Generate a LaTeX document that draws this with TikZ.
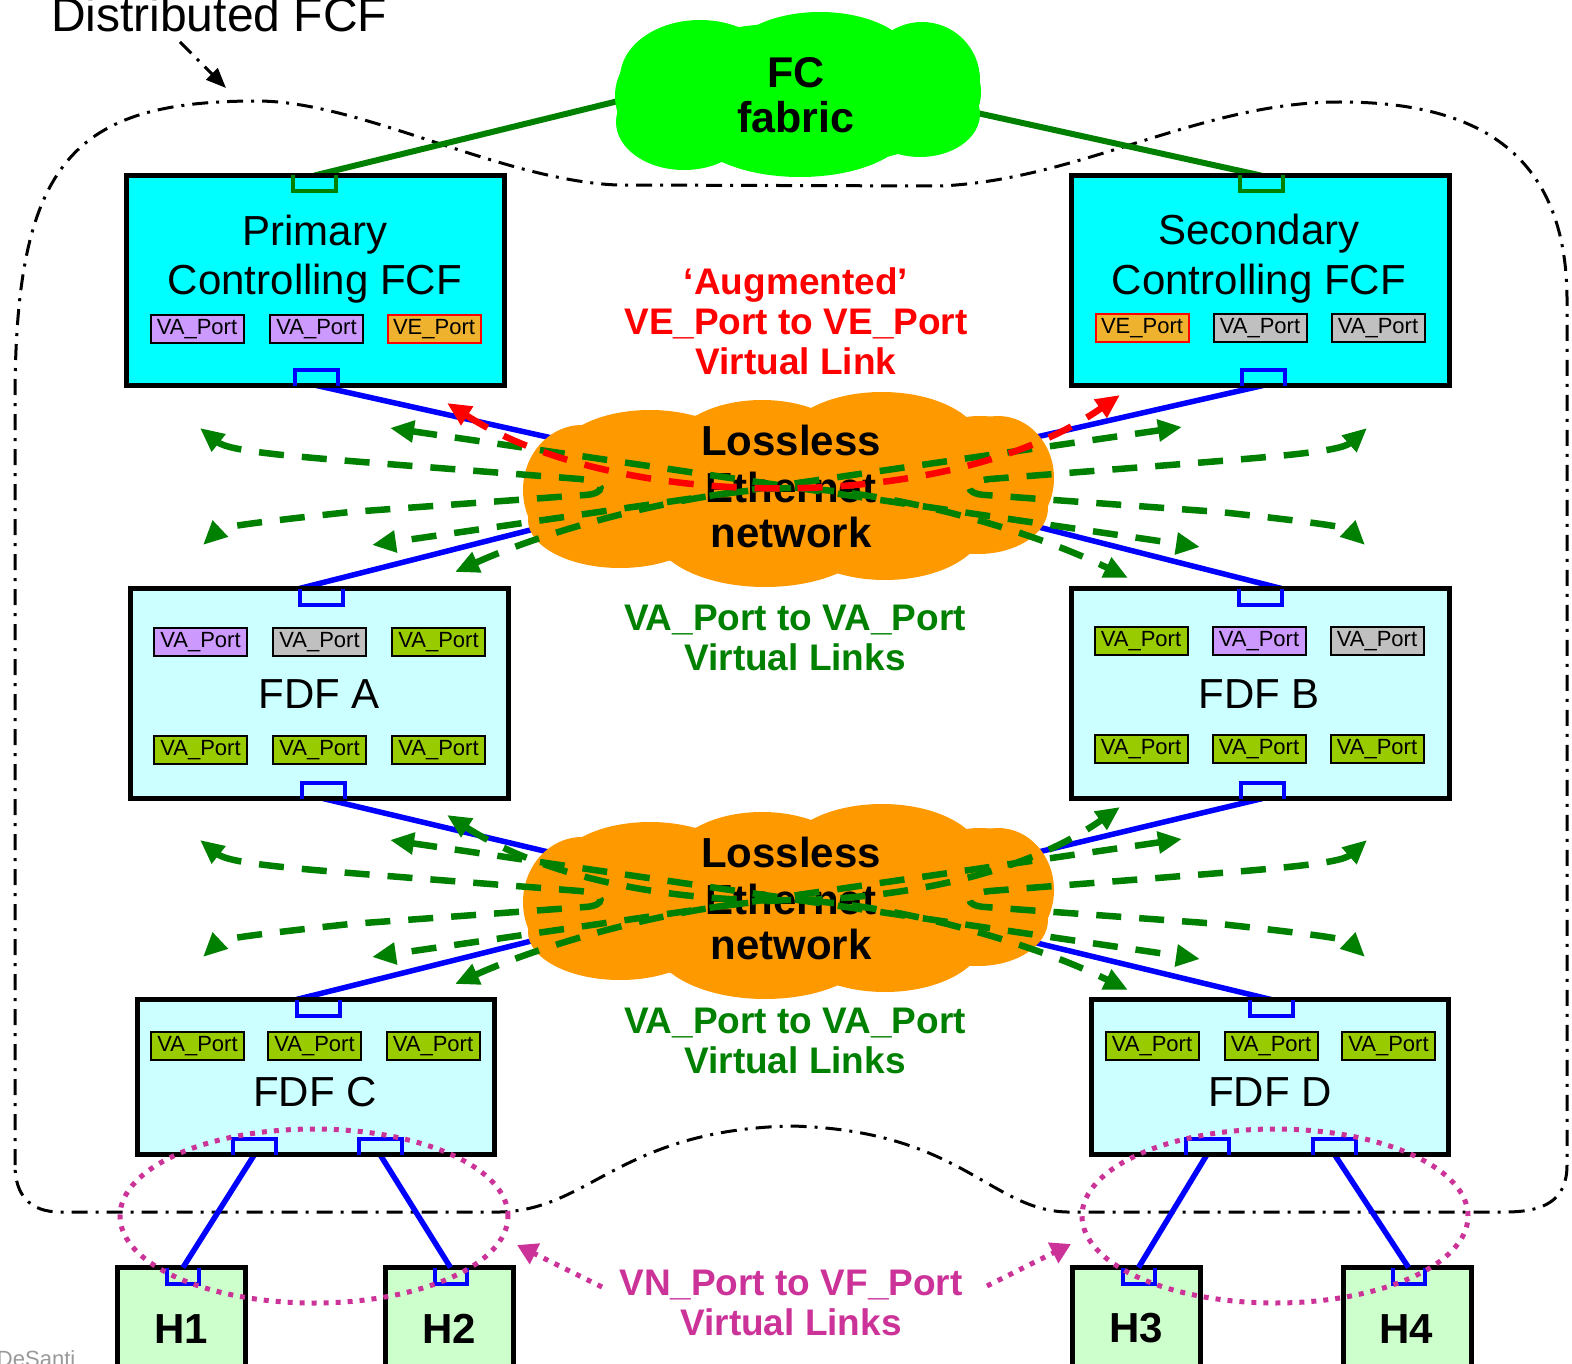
\documentclass[tikz,border=0pt]{standalone}
\usepackage{fontspec}
\setmainfont{Liberation Sans}
\usetikzlibrary{shapes.geometric,arrows.meta}
\definecolor{fcgreen}{HTML}{00FF00}
\definecolor{lgreen}{HTML}{008000}
\definecolor{corange}{HTML}{FF9900}
\definecolor{bcyan}{HTML}{00FFFF}
\definecolor{lcyan}{HTML}{CCFFFF}
\definecolor{hgreen}{HTML}{CCFFCC}
\definecolor{ppurple}{HTML}{CC99FF}
\definecolor{pgray}{HTML}{C0C0C0}
\definecolor{pgreen}{HTML}{99CC00}
\definecolor{porange}{HTML}{EEB22E}
\definecolor{mag}{HTML}{CC3399}
\definecolor{dsgray}{HTML}{999999}
\newcommand\myfs[1]{\fontsize{#1pt}{#1pt}\selectfont}
\newcommand\Utop[2]{\draw[line width=4pt,#2] (#1.north west) -- (#1.south west) -- (#1.south east) -- (#1.north east);}
\newcommand\Ubot[2]{\draw[line width=4pt,#2] (#1.south west) -- (#1.north west) -- (#1.north east) -- (#1.south east);}
\newcommand\ethcloud{%
  \fill[corange] (790,490) ellipse[x radius=255pt, y radius=80pt];
  \fill[corange] (650,460) ellipse[x radius=95pt, y radius=50pt];
  \fill[corange] (762,452) ellipse[x radius=92pt, y radius=52pt];
  \fill[corange] (882,446) ellipse[x radius=100pt, y radius=54pt];
  \fill[corange] (980,462) ellipse[x radius=65pt, y radius=46pt];
  \fill[corange] (620,520) ellipse[x radius=92pt, y radius=48pt];
  \fill[corange] (765,530) ellipse[x radius=112pt, y radius=57pt];
  \fill[corange] (885,524) ellipse[x radius=100pt, y radius=56pt];
  \fill[corange] (978,508) ellipse[x radius=70pt, y radius=46pt];
  \fill[corange] (582,490) ellipse[x radius=59pt, y radius=65pt];
  \fill[corange] (998,478) ellipse[x radius=56pt, y radius=62pt];
}
\newcommand\vlinks[2]{%
  \coordinate (#1sa) at (447,403); \coordinate (#1sb) at (1120,395);
  \coordinate (#1aa) at (390,428); \coordinate (#1ab) at (1200,547);
  \coordinate (#1ba) at (1182,427); \coordinate (#1bb) at (372,545);
  \coordinate (#1ca) at (455,572); \coordinate (#1cb) at (1128,578);
  \coordinate (#1la) at (200,428); \coordinate (#1lb) at (203,545);
  \coordinate (#1ra) at (1367,428); \coordinate (#1rb) at (1365,545);
  \draw[vl] (#1la) .. controls (230,452) and (300,457) .. (400,465) -- (580,479) .. controls (608,482) and (605,494) .. (585,495) -- (350,512) .. controls (258,522) and (222,527) .. (#1lb);
  \draw[vl] (#1ra) .. controls (1340,452) and (1270,457) .. (1170,465) -- (990,479) .. controls (962,482) and (965,494) .. (985,495) -- (1220,512) .. controls (1312,522) and (1346,527) .. (#1rb);
  \draw[vl] (#1aa) -- (#1ab);
  \draw[vl] (#1ba) -- (#1bb);
  \draw[vl] (#1ca) .. controls (560,525) and (700,490) .. (790,488) .. controls (880,490) and (1020,525) .. (#1cb);
  \draw[vl, draw=#2] (#1sa) .. controls (620,514) and (950,514) .. (#1sb);
}
\begin{document}
\begin{tikzpicture}[x=1pt,y=-1pt,
  txt/.style={anchor=base, inner sep=0pt, outer sep=0pt},
  bnd/.style={line width=3pt, dash pattern=on 16pt off 8pt on 3pt off 8pt},
  fcfbox/.style={draw=black, line width=5pt, fill=bcyan, inner sep=0pt, outer sep=0pt, minimum width=378pt, minimum height=210pt},
  fdfbox/.style={fcfbox, fill=lcyan},
  fdfsmall/.style={fdfbox, minimum width=357pt, minimum height=155pt},
  hostbox/.style={draw=black, line width=5pt, fill=hgreen, inner sep=0pt, outer sep=0pt, minimum width=128pt, minimum height=130pt},
  pl/.style={draw=black, line width=2pt, inner sep=0pt, minimum width=93pt, minimum height=28pt, font=\myfs{22}},
  pv/.style={pl, fill=ppurple}, pg/.style={pl, fill=pgray}, py/.style={pl, fill=pgreen},
  pe/.style={pl, fill=porange, draw=red},
  pu/.style={inner sep=0pt, outer sep=0pt, minimum width=43pt, minimum height=16pt},
  hu/.style={pu, minimum width=32pt},
  bl/.style={draw=blue, line width=5.5pt},
  gl/.style={draw=lgreen, line width=6pt},
  >={Triangle[length=24pt,width=21pt]},
  vl/.style={draw=lgreen, line width=6.5pt, dash pattern=on 25pt off 18pt, <->},
  mg/.style={draw=mag, line width=5pt, dash pattern=on 5pt off 7pt},
  big/.style={txt, font=\myfs{42}},
  bigb/.style={txt, font=\myfs{42}\bfseries},
  lab/.style={txt, font=\myfs{37}\bfseries}
]
\useasboundingbox (0,0) rectangle (1572,1364);

% Distributed FCF boundary
\draw[bnd] (15,1165) -- (15,400) .. controls (15,160) and (75,101) .. (257,101) .. controls (360,101) and (500,180) .. (617,185) -- (940,186) .. controls (1080,180) and (1200,102) .. (1340,102) .. controls (1460,102) and (1567,140) .. (1567,300) -- (1567,1165) .. controls (1567,1200) and (1545,1212) .. (1505,1212) -- (1067,1212) .. controls (990,1210) and (960,1130) .. (791,1126) .. controls (620,1130) and (590,1210) .. (500,1212) -- (60,1212) .. controls (30,1212) and (15,1195) .. (15,1165) -- cycle;
\node[txt, anchor=base west, font=\myfs{48}] (title) at (51,32) {Distributed FCF};
\coordinate (ta) at (180,42);
\coordinate (tb) at (226,88);
\draw[bnd, -{Triangle[length=20pt,width=16pt]}] (ta) -- (tb);

% boxes
\node[fcfbox] (pri) at (315.5,280.5) {};
\node[fcfbox] (sec) at (1260.5,280.5) {};
\node[fdfbox] (fdfa) at (319,693.5) {};
\node[fdfbox] (fdfb) at (1260,693.5) {};
\node[fdfsmall] (fdfc) at (315.5,1077) {};
\node[fdfsmall] (fdfd) at (1270,1077) {};
\node[hostbox] (h1) at (181.5,1332.5) {};
\node[hostbox] (h2) at (449.5,1332.5) {};
\node[hostbox] (h3) at (1136.5,1332.5) {};
\node[hostbox] (h4) at (1407,1332.5) {};

% port anchors
\node[pu] (priT) at (314.5,183.5) {};
\node[pu] (priB) at (316.5,377.5) {};
\node[pu] (secT) at (1261,183.5) {};
\node[pu] (secB) at (1263,377.5) {};
\node[pu] (faT) at (321,596.5) {};
\node[pu] (faB) at (323,790.5) {};
\node[pu] (fbT) at (1260,596.5) {};
\node[pu] (fbB) at (1262.5,790.5) {};
\node[pu] (fcT) at (318,1007.5) {};
\node[pu] (fcB1) at (254.5,1146.5) {};
\node[pu] (fcB2) at (380,1146.5) {};
\node[pu] (fdT) at (1271,1007.5) {};
\node[pu] (fdB1) at (1207,1146.5) {};
\node[pu] (fdB2) at (1334.5,1146.5) {};
\node[hu] (h1p) at (183,1275.5) {};
\node[hu] (h2p) at (450.5,1275.5) {};
\node[hu] (h3p) at (1138.5,1275.5) {};
\node[hu] (h4p) at (1408.5,1275.5) {};

% hidden ends inside the clouds
\coordinate (fabL) at (700,81);
\coordinate (fabR) at (900,96);
\coordinate (e1a) at (700,471);
\coordinate (e1b) at (900,468);
\coordinate (e1c) at (700,487);
\coordinate (e1d) at (900,492);
\coordinate (e2a) at (700,888);
\coordinate (e2b) at (900,885);
\coordinate (e2c) at (700,899);
\coordinate (e2d) at (900,910);

\draw[gl] (priT.north) -- (fabL);
\draw[gl] (secT.north) -- (fabR);
\draw[bl] (priB.south) -- (e1a);
\draw[bl] (secB.south) -- (e1b);
\draw[bl] (faT.north west) -- (e1c);
\draw[bl] (fbT.north east) -- (e1d);
\draw[bl] (faB.south) -- (e2a);
\draw[bl] (fbB.south) -- (e2b);
\draw[bl] (fcT.north west) -- (e2c);
\draw[bl] (fdT.north) -- (e2d);
\draw[bl] (fcB1.south) -- (h1p.north);
\draw[bl] (fcB2.south) -- (h2p.north);
\draw[bl] (fdB1.south) -- (h3p.north);
\draw[bl] (fdB2.south) -- (h4p.north);

% re-draw boxes over line ends
\node[fcfbox] (pri2) at (315.5,280.5) {};
\node[fcfbox] (sec2) at (1260.5,280.5) {};
\node[fdfbox] (fdfa2) at (319,693.5) {};
\node[fdfbox] (fdfb2) at (1260,693.5) {};
\node[fdfsmall] (fdfc2) at (315.5,1077) {};
\node[fdfsmall] (fdfd2) at (1270,1077) {};

% FC fabric cloud
\fill[fcgreen] (797,95) ellipse[x radius=176pt, y radius=72pt];
\fill[fcgreen] (700,78) ellipse[x radius=80pt, y radius=58pt];
\fill[fcgreen] (820,64) ellipse[x radius=95pt, y radius=52pt];
\fill[fcgreen] (922,80) ellipse[x radius=58pt, y radius=58pt];
\fill[fcgreen] (684,122) ellipse[x radius=68pt, y radius=48pt];
\fill[fcgreen] (800,126) ellipse[x radius=110pt, y radius=51pt];
\fill[fcgreen] (920,114) ellipse[x radius=60pt, y radius=43pt];
\fill[fcgreen] (652,96) ellipse[x radius=37pt, y radius=45pt];
\fill[fcgreen] (948,92) ellipse[x radius=33pt, y radius=40pt];
\node[txt, font=\myfs{43}\bfseries] (fab1) at (796,88) {FC};
\node[txt, font=\myfs{43}\bfseries] (fab2) at (796,133) {fabric};

% Lossless Ethernet clouds
\ethcloud
\begin{scope}[shift={(0,412)}]
\ethcloud
\end{scope}
\node[bigb] (e1t1) at (791,455) {Lossless};
\node[bigb] (e1t2) at (791,502) {Ethernet};
\node[bigb] (e1t3) at (791,547) {network};
\node[bigb] (e2t1) at (791,867) {Lossless};
\node[bigb] (e2t2) at (791,914) {Ethernet};
\node[bigb] (e2t3) at (791,959) {network};

% virtual links
\vlinks{u}{red}
\begin{scope}[shift={(0,412)}]
\vlinks{d}{lgreen}
\end{scope}

% box texts and ports
\node[big] (prit1) at (315,246) {Primary};
\node[big] (prit2) at (315,295) {Controlling FCF};
\node[big] (sect1) at (1259,245) {Secondary};
\node[big] (sect2) at (1259,295) {Controlling FCF};
\node[pv] (pp1) at (197,329.5) {VA\_Port};
\node[pv] (pp2) at (316.5,329.5) {VA\_Port};
\node[pe] (pp3) at (434,329.5) {VE\_Port};
\node[pe] (sp1) at (1142,328.5) {VE\_Port};
\node[pg] (sp2) at (1260,328.5) {VA\_Port};
\node[pg] (sp3) at (1378,328.5) {VA\_Port};
\node[pv] (ap1) at (200.5,642) {VA\_Port};
\node[pg] (ap2) at (319.5,642) {VA\_Port};
\node[py] (ap3) at (438.5,642) {VA\_Port};
\node[py] (ap4) at (200.5,750) {VA\_Port};
\node[py] (ap5) at (319.5,750) {VA\_Port};
\node[py] (ap6) at (438.5,750) {VA\_Port};
\node[big] (fdfat) at (319,708) {FDF A};
\node[py] (bp1) at (1141,641) {VA\_Port};
\node[pv] (bp2) at (1259,641) {VA\_Port};
\node[pg] (bp3) at (1377,641) {VA\_Port};
\node[py] (bp4) at (1141,749) {VA\_Port};
\node[py] (bp5) at (1259,749) {VA\_Port};
\node[py] (bp6) at (1377,749) {VA\_Port};
\node[big] (fdfbt) at (1259,708) {FDF B};
\node[py] (cp1) at (197.5,1046) {VA\_Port};
\node[py] (cp2) at (314.5,1046) {VA\_Port};
\node[py] (cp3) at (433,1046) {VA\_Port};
\node[big] (fdfct) at (315,1106) {FDF C};
\node[py] (dp1) at (1152,1046) {VA\_Port};
\node[py] (dp2) at (1271,1046) {VA\_Port};
\node[py] (dp3) at (1388.5,1046) {VA\_Port};
\node[big] (fdfdt) at (1270,1106) {FDF D};

\Utop{priT}{lgreen}
\Ubot{priB}{blue}
\Utop{secT}{lgreen}
\Ubot{secB}{blue}
\Utop{faT}{blue}
\Ubot{faB}{blue}
\Utop{fbT}{blue}
\Ubot{fbB}{blue}
\Utop{fcT}{blue}
\Ubot{fcB1}{blue}
\Ubot{fcB2}{blue}
\Utop{fdT}{blue}
\Ubot{fdB1}{blue}
\Ubot{fdB2}{blue}
\Utop{h1p}{blue}
\Utop{h2p}{blue}
\Utop{h3p}{blue}
\Utop{h4p}{blue}

\node[bigb] (h1t) at (181,1343) {H1};
\node[bigb] (h2t) at (449,1343) {H2};
\node[bigb] (h3t) at (1136,1342) {H3};
\node[bigb] (h4t) at (1406,1343) {H4};

% labels
\node[lab, text=red] (rt1) at (796,295) {‘Augmented’};
\node[lab, text=red] (rt2) at (796,335) {VE\_Port to VE\_Port};
\node[lab, text=red] (rt3) at (796,374) {Virtual Link};
\node[lab, text=lgreen] (gt1) at (795,630) {VA\_Port to VA\_Port};
\node[lab, text=lgreen] (gt2) at (795,670) {Virtual Links};
\node[lab, text=lgreen] (gt3) at (795,1033) {VA\_Port to VA\_Port};
\node[lab, text=lgreen] (gt4) at (795,1073) {Virtual Links};
\node[lab, text=mag] (mt1) at (791,1295) {VN\_Port to VF\_Port};
\node[lab, text=mag] (mt2) at (791,1335) {Virtual Links};

% VN_Port to VF_Port groups
\node[ellipse, mg, minimum width=388pt, minimum height=174pt, inner sep=0pt] (elL) at (314,1216) {};
\node[ellipse, mg, minimum width=386pt, minimum height=174pt, inner sep=0pt] (elR) at (1275,1216) {};
\coordinate (mla) at (602,1287);
\coordinate (mlb) at (517,1245);
\coordinate (mra) at (987,1286);
\coordinate (mrb) at (1071,1244);
\draw[mg, -{Triangle[length=20pt,width=22pt]}] (mla) -- (mlb);
\draw[mg, -{Triangle[length=20pt,width=22pt]}] (mra) -- (mrb);

\node[txt, anchor=base west, font=\myfs{22}, text=dsgray] (ds) at (-3,1366) {DeSanti};
\end{tikzpicture}
\end{document}
